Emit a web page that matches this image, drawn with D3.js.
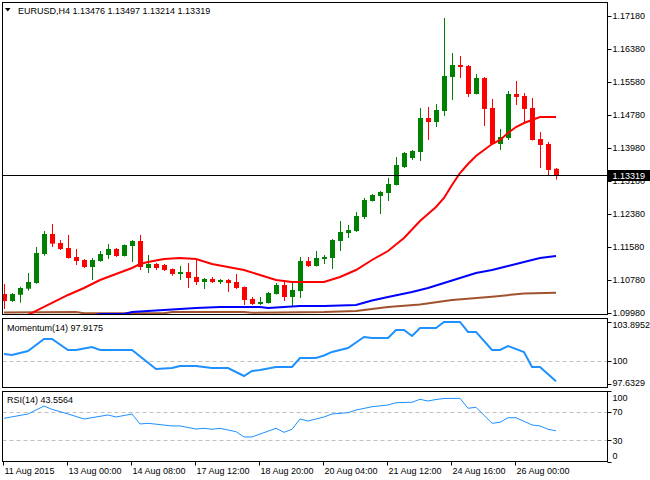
<!DOCTYPE html>
<html>
<head>
<meta charset="utf-8">
<script src="https://cdn.jsdelivr.net/npm/d3@7"></script>
<style>
body { margin: 0; background: #fff; }
svg text { font-family: "Liberation Sans", Arial, sans-serif; font-size: 9px; fill: #000; }
</style>
</head>
<body>
<div id="chart"></div>
<script>
// H4 candles, bar 0 = 11 Aug 2015 16:00
const open  = [1.10440,1.10271,1.10423,1.10569,1.10707,1.11410,1.11895,1.11677,1.11556,1.11337,
               1.11265,1.11095,1.11240,1.11386,1.11532,1.11362,1.11604,1.11725,1.11071,1.11168,
               1.11144,1.11047,1.10926,1.10974,1.10853,1.10731,1.10804,1.10731,1.10780,1.10731,
               1.10610,1.10320,1.10199,1.10223,1.10440,1.10659,1.10368,1.10513,1.11240,1.11119,
               1.11289,1.11313,1.11725,1.11919,1.11968,1.12308,1.12695,1.12817,1.12889,1.13083,
               1.13520,1.13738,1.13883,1.14707,1.14610,1.14877,1.15701,1.15992,1.15968,1.15289,
               1.15677,1.14950,1.14077,1.14223,1.15289,1.15241,1.14950,1.14198,1.14077,1.13476];
const high  = [1.10683,1.10465,1.10617,1.10949,1.11580,1.11968,1.12138,1.11749,1.11871,1.11532,
               1.11289,1.11313,1.11483,1.11652,1.11556,1.11640,1.11749,1.11871,1.11386,1.11192,
               1.11168,1.11059,1.11119,1.11192,1.11289,1.10828,1.10853,1.10804,1.10804,1.10925,
               1.10623,1.10368,1.10368,1.10489,1.10707,1.10780,1.10756,1.11337,1.11337,1.11483,
               1.11386,1.11774,1.12210,1.12113,1.12429,1.12768,1.12865,1.12938,1.13253,1.13762,
               1.13883,1.13932,1.14950,1.14974,1.15047,1.17132,1.16283,1.16210,1.15992,1.15774,
               1.15701,1.15168,1.14441,1.15362,1.15604,1.15314,1.15192,1.14368,1.14126,1.13497];
const low   = [1.10077,1.10247,1.10230,1.10521,1.10690,1.11369,1.11580,1.11507,1.11296,1.11143,
               1.11071,1.10780,1.11223,1.11289,1.11337,1.11350,1.11216,1.11022,1.10950,1.11022,
               1.10998,1.10884,1.10780,1.10586,1.10659,1.10562,1.10707,1.10683,1.10489,1.10562,
               1.10174,1.10174,1.10174,1.10211,1.10428,1.10271,1.10150,1.10344,1.11095,1.11107,
               1.11168,1.11047,1.11483,1.11798,1.11944,1.12259,1.12683,1.12380,1.12695,1.13071,
               1.13495,1.13689,1.13665,1.14174,1.14489,1.14756,1.15144,1.15677,1.15217,1.15277,
               1.14514,1.14065,1.13932,1.14174,1.15023,1.14610,1.14162,1.13495,1.13302,1.13214];
const close = [1.10271,1.10440,1.10586,1.10731,1.11434,1.11895,1.11660,1.11532,1.11313,1.11240,
               1.11095,1.11265,1.11410,1.11532,1.11362,1.11628,1.11725,1.11095,1.11168,1.11071,
               1.11022,1.10926,1.10974,1.10829,1.10731,1.10804,1.10731,1.10780,1.10707,1.10586,
               1.10295,1.10199,1.10247,1.10465,1.10659,1.10368,1.10538,1.11240,1.11119,1.11313,
               1.11337,1.11749,1.11943,1.11992,1.12332,1.12720,1.12841,1.12914,1.13108,1.13568,
               1.13859,1.13907,1.14707,1.14610,1.14901,1.15726,1.15992,1.15944,1.15289,1.15677,
               1.14926,1.14077,1.14247,1.15289,1.15217,1.14926,1.14174,1.14053,1.13447,1.13319];

// moving averages (bar index, price)
const maRedIdx = [3,4,6,8,10,12,14,16,17,18,20,22,24,26,28,30,32,34,36,40,42,44,46,48,50,52,53,54,55,56,57,58,59,60,61,62,63,64,65,66,67,68,69];
const maRed    = [1.09932,1.10029,1.10223,1.10417,1.10586,1.10780,1.10926,1.11071,1.11168,1.11216,1.11289,1.11313,1.11289,1.11168,1.11095,1.11022,1.10901,1.10780,1.10731,1.10731,1.10853,1.11022,1.11265,1.11483,1.11798,1.12211,1.12380,1.12550,1.12768,1.13083,1.13374,1.13592,1.13786,1.13932,1.14077,1.14174,1.14344,1.14489,1.14586,1.14659,1.14732,1.14732,1.14732];
const maBlueIdx = [11,12,15,16,18,20,22,24,27,32,33,37,40,44,46,48,51,53,55,57,59,61,63,65,67,69];
const maBlue    = [1.09915,1.09956,1.09956,1.10004,1.10029,1.10053,1.10077,1.10101,1.10126,1.10126,1.10101,1.10150,1.10150,1.10174,1.10283,1.10368,1.10489,1.10586,1.10707,1.10829,1.10950,1.11022,1.11119,1.11216,1.11313,1.11362];
const maBrownIdx = [0,9,10,20,21,30,31,40,44,48,52,56,61,65,69];
const maBrown    = [1.09992,1.10004,1.09973,1.09973,1.10004,1.10004,1.09987,1.10004,1.10029,1.10126,1.10186,1.10295,1.10375,1.10453,1.10472];

const momIdx = [0,1,3,5,6,8,9,11,12,16,19,21,22,24,26,28,30,31,32,34,36,37,39,40,41,43,45,46,48,49,50,51,52,54,55,57,58,59,61,62,63,65,66,67,69];
const momVal = [100.66,100.56,100.97,102.18,102.18,101.07,101.07,101.37,101.07,101.07,99.15,99.25,99.45,99.45,99.25,99.25,98.44,98.95,99.05,99.35,99.35,100.26,100.26,100.51,100.87,101.27,102.38,102.28,102.28,103.09,103.09,102.48,103.29,103.29,103.90,103.90,102.89,102.89,101.07,101.07,101.47,100.87,99.35,99.35,97.92];

const rsiIdx = [0,3,5,6,8,10,13,14,16,17,18,21,22,24,25,26,27,29,30,31,34,35,36,37,38,40,41,43,44,46,48,49,51,52,53,54,55,57,58,59,61,62,63,64,66,67,68,69];
const rsiVal = [61.3,67.4,78.7,74.0,67.4,60.3,66.0,63.1,67.4,53.2,54.2,50.4,50.4,46.1,47.1,45.7,47.1,42.3,34.8,34.8,47.1,41.4,45.7,60.3,57.4,63.1,67.4,69.2,73.0,77.7,80.1,83.4,84.0,88.2,85.8,87.9,89.4,89.6,75.5,76.9,54.2,55.6,62.1,62.1,51.8,50.4,45.7,43.56];

const priceTicks = [1.17180,1.16380,1.15580,1.14780,1.13980,1.13180,1.12380,1.11580,1.10780,1.09980];
const lastPrice = 1.13319;
const momLabels = [103.8952, 100, 97.6329];
const rsiLabels = [100, 70, 30, 0];
const rsiLevels = [70, 30];
const timeIdx = [0,8,16,24,32,40,48,56,64];
const timeLabels = ["11 Aug 2015","13 Aug 00:00","14 Aug 08:00","17 Aug 12:00","18 Aug 20:00",
                    "20 Aug 04:00","21 Aug 12:00","24 Aug 16:00","26 Aug 00:00"];
const titleText = "EURUSD,H4  1.13476 1.13497 1.13214 1.13319";
const momTitle = "Momentum(14) 97.9175";
const rsiTitle = "RSI(14) 43.5564";

const w = 650, h = 480;
const left = 2.5, right = 607.5;
const main = {top: 2.5, bottom: 314.5};
const mom = {top: 318.5, bottom: 387.5};
const rsi = {top: 391.5, bottom: 461.5};

const svg = d3.select('#chart').append('svg')
              .attr('width', w)
              .attr('height', h);

const xScale = d3.scaleLinear().domain([0, 69]).range([4, 556]);
const yScale = d3.scaleLinear().domain([1.0998, 1.1718]).range([313, 16]);
const yMom = d3.scaleLinear().domain([97.6329, 103.8952]).range([384, 322]);
const yRsi = d3.scaleLinear().domain([0, 100]).range([461.5, 391]);

// clip areas
const defs = svg.append('defs');
[['clip-main', main], ['clip-mom', mom], ['clip-rsi', rsi]].forEach(([id, p]) => {
    defs.append('clipPath').attr('id', id).append('rect')
        .attr('x', left).attr('y', p.top).attr('width', right - left).attr('height', p.bottom - p.top);
});

// main panel
const gMain = svg.append('g').attr('clip-path', 'url(#clip-main)');

const bars = d3.range(open.length);
gMain.selectAll('line.wick').data(bars).enter().append('line')
     .attr('class', 'wick')
     .attr('x1', i => xScale(i) + 0.5).attr('x2', i => xScale(i) + 0.5)
     .attr('y1', i => yScale(high[i])).attr('y2', i => yScale(low[i]))
     .attr('stroke', i => close[i] >= open[i] ? '#008000' : '#ff0000')
     .attr('stroke-width', 1);

gMain.selectAll('rect.body').data(bars).enter().append('rect')
     .attr('class', 'body')
     .attr('x', i => xScale(i) - 2)
     .attr('width', 5)
     .attr('y', i => yScale(Math.max(open[i], close[i])))
     .attr('height', i => Math.max(1, Math.abs(yScale(open[i]) - yScale(close[i]))))
     .attr('fill', i => close[i] >= open[i] ? '#008000' : '#ff0000');

const maLine = (idx, vals) => d3.line().x((d, k) => xScale(idx[k])).y(d => yScale(d))(vals);
gMain.append('path').attr('d', maLine(maBrownIdx, maBrown)).attr('fill', 'none').attr('stroke', '#a0522d').attr('stroke-width', 2);
gMain.append('path').attr('d', maLine(maBlueIdx, maBlue)).attr('fill', 'none').attr('stroke', '#0000ff').attr('stroke-width', 2);
gMain.append('path').attr('d', maLine(maRedIdx, maRed)).attr('fill', 'none').attr('stroke', '#ff0000').attr('stroke-width', 2);

// bid line
svg.append('line')
   .attr('x1', left).attr('x2', right)
   .attr('y1', Math.round(yScale(lastPrice)) + 0.5).attr('y2', Math.round(yScale(lastPrice)) + 0.5)
   .attr('stroke', '#000').attr('stroke-width', 1);

// momentum panel
const gMom = svg.append('g').attr('clip-path', 'url(#clip-mom)');
gMom.append('line')
    .attr('x1', left).attr('x2', right)
    .attr('y1', Math.round(yMom(100)) + 0.5).attr('y2', Math.round(yMom(100)) + 0.5)
    .attr('stroke', '#c0c0c0').attr('stroke-dasharray', '4,3');
gMom.append('path')
    .attr('d', d3.line().x((d, k) => xScale(momIdx[k])).y(d => yMom(d))(momVal))
    .attr('fill', 'none').attr('stroke', '#1e90ff').attr('stroke-width', 2);

// rsi panel
const gRsi = svg.append('g').attr('clip-path', 'url(#clip-rsi)');
gRsi.selectAll('line.level').data(rsiLevels).enter().append('line')
    .attr('class', 'level')
    .attr('x1', left).attr('x2', right)
    .attr('y1', d => Math.round(yRsi(d)) + 0.5).attr('y2', d => Math.round(yRsi(d)) + 0.5)
    .attr('stroke', '#c0c0c0').attr('stroke-dasharray', '4,3');
gRsi.append('path')
    .attr('d', d3.line().x((d, k) => xScale(rsiIdx[k])).y(d => yRsi(d))(rsiVal))
    .attr('fill', 'none').attr('stroke', '#1e90ff').attr('stroke-width', 1);

// panel frames
[main, mom, rsi].forEach(p => {
    svg.append('rect')
       .attr('x', left).attr('y', p.top)
       .attr('width', right - left).attr('height', p.bottom - p.top)
       .attr('fill', 'none').attr('stroke', '#000').attr('stroke-width', 1);
});

// right scales
const rightTick = (g, yv, label, ty) => {
    g.append('line').attr('x1', right).attr('x2', right + 4)
     .attr('y1', Math.round(yv) + 0.5).attr('y2', Math.round(yv) + 0.5)
     .attr('stroke', '#000');
    g.append('text').attr('x', right + 5).attr('y', ty).attr('dy', '0.35em').text(label);
};
const gAxis = svg.append('g');
priceTicks.forEach(p => rightTick(gAxis, yScale(p), p.toFixed(5), yScale(p)));
momLabels.forEach(v => {
    const yy = yMom(v);
    rightTick(gAxis, yy, String(v), Math.min(Math.max(yy, mom.top + 6), mom.bottom - 5));
});
rsiLabels.forEach(v => {
    const yy = yRsi(v);
    rightTick(gAxis, yy, String(v), Math.min(Math.max(yy, rsi.top + 6), rsi.bottom - 6));
});

// current price tag
const yLast = Math.round(yScale(lastPrice));
svg.append('rect').attr('x', right + 0.5).attr('y', yLast - 5).attr('width', w - right).attr('height', 11).attr('fill', '#000');
svg.append('text').attr('x', right + 5).attr('y', yLast + 0.5).attr('dy', '0.35em')
   .style('fill', '#fff').text(lastPrice.toFixed(5));

// time axis
timeIdx.forEach((i, k) => {
    const tx = Math.round(xScale(i)) - 0.5;
    svg.append('line').attr('x1', tx).attr('x2', tx)
       .attr('y1', rsi.bottom).attr('y2', rsi.bottom + 4).attr('stroke', '#000');
    svg.append('text').attr('x', tx + 1).attr('y', 474).text(timeLabels[k]);
});

// titles
svg.append('path').attr('d', 'M5,8 L10.5,8 L7.75,11.5 Z').attr('fill', '#000');
svg.append('text').attr('x', 18).attr('y', 13.5).text(titleText);
svg.append('text').attr('x', 7).attr('y', 331).text(momTitle);
svg.append('text').attr('x', 7).attr('y', 402.5).text(rsiTitle);
</script>
</body>
</html>
